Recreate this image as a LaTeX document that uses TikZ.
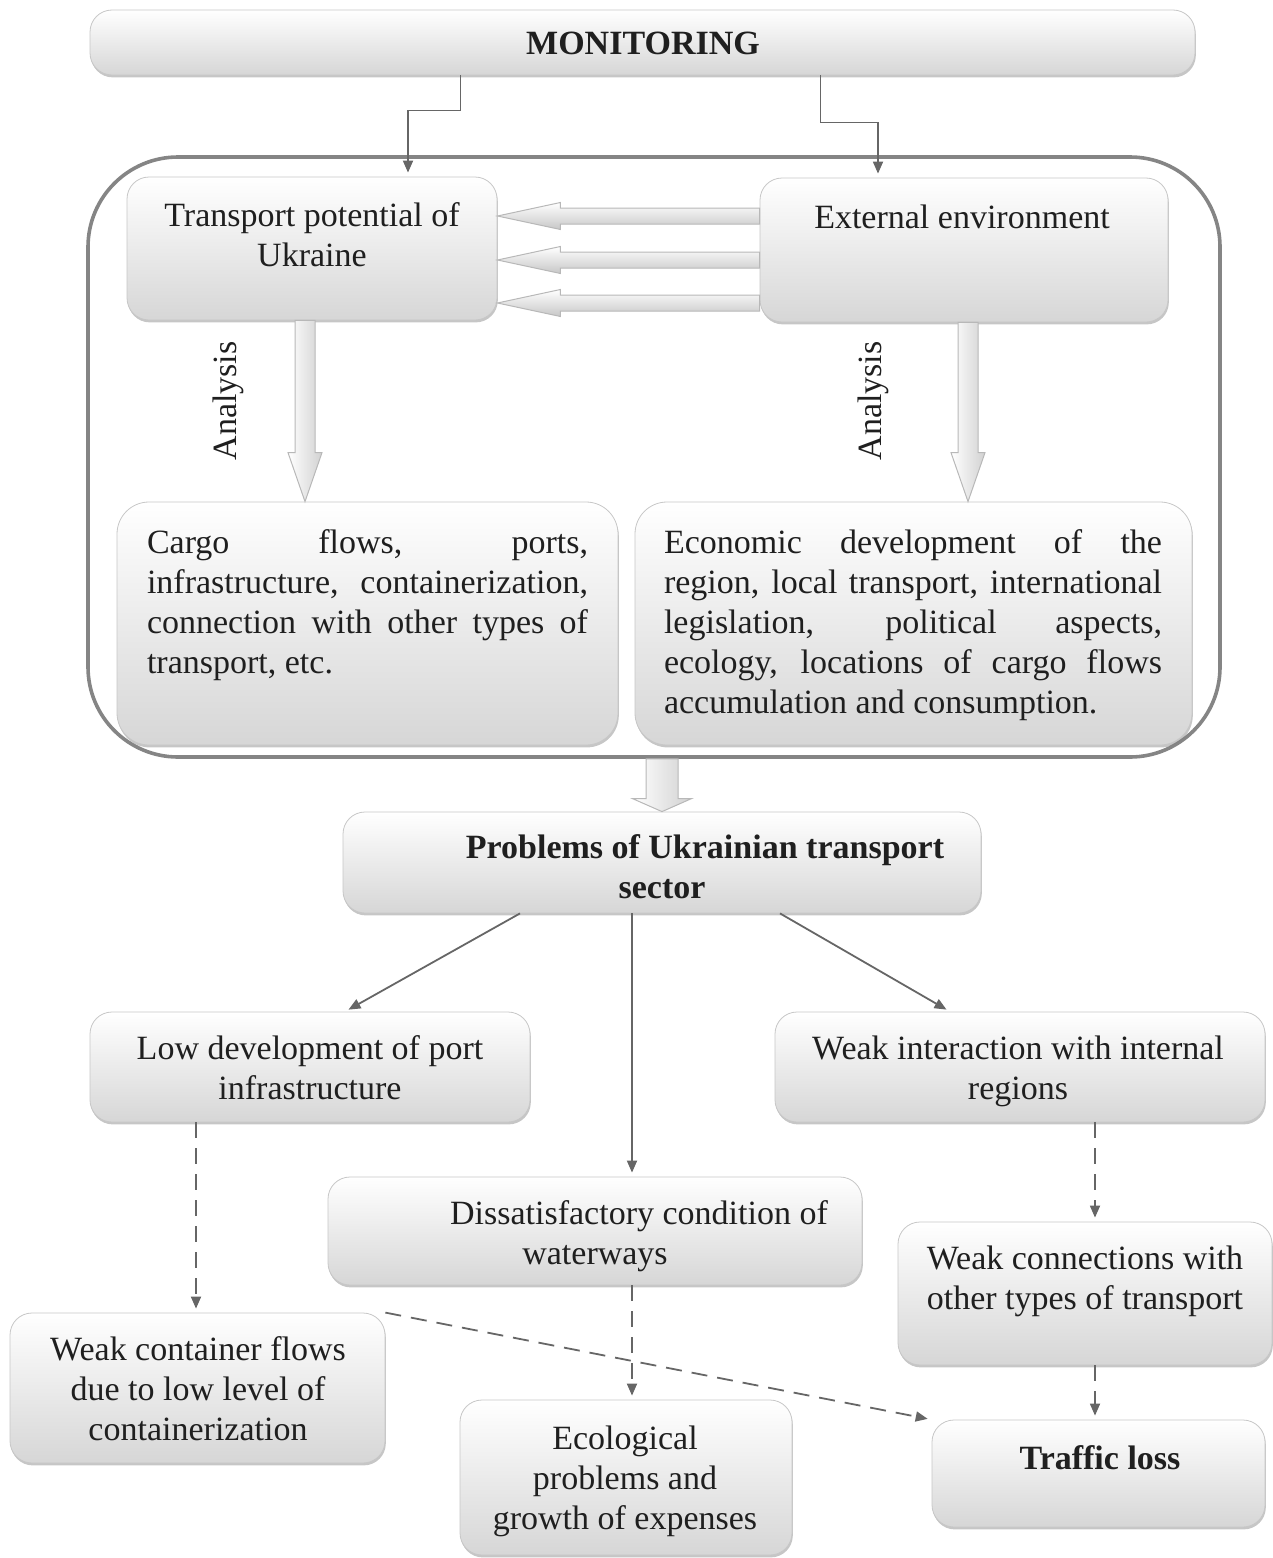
\documentclass[tikz,border=0pt]{standalone}
\usepackage{fontspec}
\setmainfont{Liberation Serif}
\usetikzlibrary{arrows.meta,calc,shadows}

% wide arrow drawn as a polygon: style, from, to, shaft half width, head half width, head length
\newcommand{\blockarrow}[6]{%
  \coordinate (ba-h) at ($(#3)!#6!(#2)$);
  \path[#1] ($(#2)!#4!90:(#3)$) -- ($(ba-h)!#4!90:(#3)$) -- ($(ba-h)!#5!90:(#3)$)
    -- (#3) -- ($(ba-h)!#5!-90:(#3)$) -- ($(ba-h)!#4!-90:(#3)$) -- ($(#2)!#4!-90:(#3)$) -- cycle;}

\tikzset{
  panel/.style={draw=black!22, rounded corners=11pt, top color=white, bottom color=black!16,
    drop shadow={shadow xshift=0.4pt, shadow yshift=-1.2pt, opacity=0.45}, inner sep=0pt},
  bigpanel/.style={panel, rounded corners=16pt},
  framebox/.style={draw=black!48, line width=1.8pt, rounded corners=45pt, inner sep=0pt},
  txt/.style={font=\fontsize{17}{20}\selectfont, text=black!88, align=center, inner sep=0pt},
  txtb/.style={txt, font=\fontsize{17}{20}\selectfont\bfseries},
  link/.style={draw=black!60, line width=0.9pt, -{Triangle[length=6pt,width=5pt]}, shorten >=2pt},
  dlink/.style={link, dash pattern=on 8pt off 5pt},
  hollow/.style={draw=black!28, line width=0.5pt},
}

\begin{document}
\begin{tikzpicture}[x=0.5pt, y=-0.5pt]
\useasboundingbox (0,0) rectangle (1273,1558);

% frame around the analysis part
\node[framebox, minimum width=566pt, minimum height=300pt] (frame) at (654,457) {};

% boxes
\node[panel, minimum width=552.5pt, minimum height=32.5pt] (mon) at (642.5,42.5) {};
\node[panel, minimum width=185pt, minimum height=71.5pt] (tp) at (312,248.5) {};
\node[panel, minimum width=204pt, minimum height=72pt] (ext) at (964,250) {};
\node[bigpanel, minimum width=250.5pt, minimum height=121.5pt] (cargo) at (367.5,623.5) {};
\node[bigpanel, minimum width=278.5pt, minimum height=121.5pt] (econ) at (913.5,623.5) {};
\node[panel, minimum width=319pt, minimum height=50.5pt] (prob) at (662,862.5) {};
\node[panel, minimum width=220pt, minimum height=55pt] (low) at (310,1067) {};
\node[panel, minimum width=245pt, minimum height=55pt] (wint) at (1020,1067) {};
\node[panel, minimum width=267pt, minimum height=54pt] (dis) at (595,1231) {};
\node[panel, minimum width=187pt, minimum height=71.5pt] (wcn) at (1085,1293.5) {};
\node[panel, minimum width=187.5pt, minimum height=75pt] (wcf) at (197.5,1388) {};
\node[panel, minimum width=166pt, minimum height=77.5pt] (eco) at (626,1477.5) {};
\node[panel, minimum width=166.5pt, minimum height=53.5pt] (tl) at (1098.5,1473.5) {};

% texts
\node[txtb] (mon-t) at (643,43) {MONITORING};
\node[txt] (tp-t) at (312,235) {Transport potential of\\Ukraine};
\node[txt] (ext-t) at (962,217) {External environment};
\node[txt, text width=220.5pt, align=justify] (cargo-t) at (367.5,605) {Cargo flows, ports,\linebreak
  infrastructure, containerization,\linebreak connection with other types of\linebreak transport, etc.};
\node[txt, text width=249pt, align=justify] (econ-t) at (913,625) {Economic development of the\linebreak
  region, local transport, international\linebreak legislation, political aspects,\linebreak
  ecology, locations of cargo flows\linebreak accumulation and consumption.};
\node[txt, rotate=90] (an1) at (228,401) {Analysis};
\node[txt, rotate=90] (an2) at (873,401) {Analysis};
\node[txtb] (prob-t) at (662,867) {\hspace*{43pt}Problems of Ukrainian transport\\sector};
\node[txt] (low-t) at (310,1068) {Low development of port\\infrastructure};
\node[txt] (wint-t) at (1018,1071) {Weak interaction with internal\\regions};
\node[txt] (dis-t) at (595,1236) {\hspace*{44pt}Dissatisfactory condition of\\waterways};
\node[txt] (wcn-t) at (1085,1281) {Weak connections with\\other types of transport};
\node[txt] (wcf-t) at (198,1389) {Weak container flows\\due to low level of\\containerization};
\node[txt] (eco-t) at (625,1481) {Ecological\\problems and\\growth of expenses};
\node[txtb] (tl-t) at (1100,1458) {Traffic loss};

% monitoring feeds both sides
\draw[link] ([xshift=-91pt]mon.south) -- ++(0,35) -| ([xshift=48pt]tp.north);
\draw[link] ([xshift=89pt]mon.south) -- ++(0,47) -| ([xshift=-43pt]ext.north);

% external environment acts on the potential
\foreach \dy [count=\i] in {17,-5,-26.5} {
  \coordinate (hs\i) at ([yshift=\dy pt]ext.west);
  \coordinate (he\i) at (tp.east |- hs\i);
  \blockarrow{hollow, top color=white, bottom color=black!22}{hs\i}{he\i}{4pt}{6.75pt}{31.5pt}
}

% analysis arrows
\coordinate (as1) at ([xshift=-3.5pt]tp.south);
\coordinate (ae1) at (as1 |- cargo.north);
\blockarrow{hollow, left color=white, right color=black!18}{as1}{ae1}{5pt}{8.5pt}{24.5pt}
\coordinate (as2) at ([xshift=2pt]ext.south);
\coordinate (ae2) at (as2 |- econ.north);
\blockarrow{hollow, left color=white, right color=black!18}{as2}{ae2}{5pt}{8.5pt}{24.5pt}
\coordinate (as3) at (prob.north |- frame.south);
\blockarrow{hollow, left color=white, right color=black!18}{as3}{prob.north}{8pt}{14.75pt}{6.5pt}

% problems
\draw[link] ([xshift=-71pt]prob.south) -- ([xshift=17.5pt]low.north);
\draw[link] ([xshift=59pt]prob.south) -- ([xshift=-35pt]wint.north);
\coordinate (p3) at ([xshift=-15pt]prob.south);
\draw[link] (p3) -- (p3 |- dis.north);

% consequences
\coordinate (l1) at ([xshift=-57pt]low.south);
\draw[dlink] (l1) -- (l1 |- wcf.north);
\coordinate (d1) at ([xshift=18.5pt]dis.south);
\draw[dlink] (d1) -- (d1 |- eco.north);
\coordinate (w1) at ([xshift=37.5pt]wint.south);
\draw[dlink] (w1) -- (w1 |- wcn.north);
\coordinate (w2) at ([xshift=5pt]wcn.south);
\draw[dlink] (w2) -- (w2 |- tl.north);
\draw[dlink] (wcf.north east) -- (tl.north west);
\end{tikzpicture}
\end{document}
